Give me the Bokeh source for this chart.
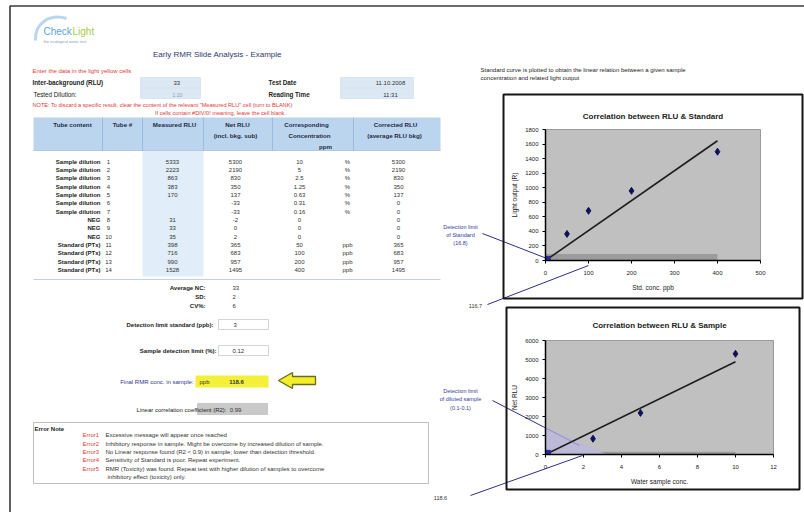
from bokeh.plotting import figure
from bokeh.models import Range1d, FixedTicker, GridBox, PolyAnnotation
from bokeh.core.properties import value
from bokeh.embed import file_html
from bokeh.resources import INLINE

FONT = "Liberation Sans"

# ---------------- chart data ----------------
std_conc = [50, 100, 200, 400]
std_rlu = [365, 683, 957, 1495]
std_fit_x = [0, 400]
std_fit_y = [0, 1645]
std_band_x = [0, 400]
std_band_y = [90, 90]
std_limit_x = [4]
std_limit_y = [15]
std_x_ticks = [0, 100, 200, 300, 400, 500]
std_y_ticks = [0, 200, 400, 600, 800, 1000, 1200, 1400, 1600, 1800]

smp_conc = [2.5, 5, 10]
smp_rlu = [830, 2190, 5300]
smp_fit_x = [0, 10]
smp_fit_y = [0, 4880]
smp_band_x = [0, 10]
smp_band_y = [150, 150]
smp_zone_x = [0, 0, 3.2]
smp_zone_y = [0, 1450, 0]
smp_limit_x = [0.1]
smp_limit_y = [60]
smp_x_ticks = [0, 2, 4, 6, 8, 10, 12]
smp_y_ticks = [0, 1000, 2000, 3000, 4000, 5000, 6000]

# ---------------- spreadsheet data ----------------
tube_content = ["Sample dilution"] * 7 + ["NEG"] * 3 + ["Standard (PTx)"] * 4
tube_no = [str(i) for i in range(1, 15)]
measured_rlu = ["5333", "2223", "863", "383", "170", "", "", "31", "33", "35", "398", "716", "990", "1528"]
net_rlu = ["5300", "2190", "830", "350", "137", "-33", "-33", "-2", "0", "2", "365", "683", "957", "1495"]
conc_val = ["10", "5", "2.5", "1.25", "0.63", "0.31", "0.16", "0", "0", "0", "50", "100", "200", "400"]
conc_unit = ["%"] * 7 + [""] * 3 + ["ppb"] * 4
corrected_rlu = ["5300", "2190", "830", "350", "137", "0", "0", "0", "0", "0", "365", "683", "957", "1495"]

stat_labels = ["Average NC:", "SD:", "CV%:"]
stat_values = ["33", "2", "6"]

error_codes = ["Error1", "Error2", "Error3", "Error4", "Error5", ""]
error_texts = [
    "Excessive message will appear once reached",
    "Inhibitory response in sample. Might be overcome by increased dilution of sample.",
    "No Linear response found (R2 < 0.9) in sample; lower than detection threshold.",
    "Sensitivity of Standard is poor. Repeat experiment.",
    "RMR (Toxicity) was found. Repeat test with higher dilution of samples to overcome",
    "inhibitory effect (toxicity) only.",
]

# ---------------- sheet layout (page pixels) ----------------
PAGE_W, PAGE_H = 804, 512
C1_X0, C1_X1, C1_Y0, C1_Y1 = 504, 801, 100, 297
C2_X0, C2_X1, C2_Y0, C2_Y1 = 507, 798, 308, 488
LINE_COL = "#2e2e8a"
BOX_COL = "#151515"
CALLOUTS = [((482, 233), (549, 259)), ((487, 304), (588, 265)),
            ((492, 400), (579, 445)), ((470, 495), (582, 455))]


def T(cv, xs, ys, texts, size="6px", color="#333333", align="left", style="normal"):
    cv.text(x=xs, y=ys, text=texts, text_font=value(FONT), text_font_size=size,
            text_color=color, text_align=align, text_baseline="middle", text_font_style=style)


# ---------------- charts ----------------
def make_chart(x0, x1, y0, y1, xr, yr, xt, yt, title, xlab, ylab, borders, standoff):
    p = figure(width=x1 - x0, height=y1 - y0, x_range=Range1d(*xr), y_range=Range1d(*yr),
               output_backend="svg", toolbar_location=None,
               min_border_left=borders[0], min_border_right=borders[1],
               min_border_top=borders[2], min_border_bottom=borders[3])
    p.title.text = title
    p.title.align = "center"
    p.title.text_font = FONT
    p.title.text_font_size = "8px"
    p.title.text_font_style = "bold"
    p.title.text_color = "#222222"
    p.title.standoff = standoff
    p.background_fill_color = "#c0c0c0"
    p.border_fill_color = None
    p.outline_line_color = "#9a9a9a"
    p.xgrid.visible = False
    p.ygrid.visible = False
    for ax in (p.xaxis[0], p.yaxis[0]):
        ax.axis_line_color = "black"
        ax.axis_line_width = 1.5
        ax.major_tick_line_color = "black"
        ax.major_tick_out = 3
        ax.major_tick_in = 0
        ax.minor_tick_line_color = None
        ax.major_label_text_font = FONT
        ax.major_label_text_font_size = "6px"
        ax.major_label_text_color = "#222222"
        ax.axis_label_text_font = FONT
        ax.axis_label_text_font_size = "6.5px"
        ax.axis_label_text_font_style = "normal"
        ax.axis_label_text_color = "#222222"
    p.xaxis.ticker = FixedTicker(ticks=xt)
    p.yaxis.ticker = FixedTicker(ticks=yt)
    p.xaxis.major_label_standoff = 7
    p.xaxis.axis_label_standoff = 6
    p.yaxis.major_label_standoff = 4
    p.yaxis.axis_label_standoff = 4
    p.xaxis.axis_label = xlab
    p.yaxis.axis_label = ylab
    # the part of each call-out line that lies over the plot area
    for (xa, ya), (xb, yb) in CALLOUTS:
        p.add_layout(PolyAnnotation(xs=[xa - x0, xb - x0], ys=[ya - y0, yb - y0],
                                    xs_units="canvas", ys_units="canvas",
                                    fill_color=None, line_color=LINE_COL, line_width=1))
    return p


c1 = make_chart(C1_X0, C1_X1, C1_Y0, C1_Y1, (0, 500), (0, 1800), std_x_ticks, std_y_ticks,
                "Correlation between RLU & Standard", "Std. conc. ppb", "Light output (R)",
                (41, 41, 28, 37), 18)
c1.varea(x=std_band_x, y1=[0, 0], y2=std_band_y, fill_color="#9c9c9c")
c1.line(std_fit_x, std_fit_y, line_color="#1e1e1e", line_width=1.6)
c1.scatter(std_conc, std_rlu, marker="diamond", size=7, fill_color="#10105a", line_color="#10105a")
c1.scatter(std_limit_x, std_limit_y, marker="square", size=6, fill_color="#2a2a9a", line_color="#2a2a9a")

c2 = make_chart(C2_X0, C2_X1, C2_Y0, C2_Y1, (0, 12), (0, 6000), smp_x_ticks, smp_y_ticks,
                "Correlation between RLU & Sample", "Water sample conc.", "Net RLU",
                (38, 25, 32, 34), 21)
c2.varea(x=smp_band_x, y1=[0, 0], y2=smp_band_y, fill_color="#9c9c9c")
c2.patch(smp_zone_x, smp_zone_y, fill_color="#bdb8da", line_color=None, fill_alpha=0.9)
c2.line(smp_fit_x, smp_fit_y, line_color="#1e1e1e", line_width=1.6)
c2.scatter(smp_conc, smp_rlu, marker="diamond", size=7, fill_color="#10105a", line_color="#10105a")
c2.scatter(smp_limit_x, smp_limit_y, marker="square", size=6, fill_color="#2a2a9a", line_color="#2a2a9a")

# ---------------- the sheet (page pixels), lying under the two charts ----------------
cv = figure(width=PAGE_W, height=PAGE_H, x_range=Range1d(0, PAGE_W), y_range=Range1d(PAGE_H, 0),
            x_axis_type=None, y_axis_type=None, toolbar_location=None, output_backend="svg",
            min_border=0, background_fill_color="white", border_fill_color="white",
            outline_line_color=None)

cv.line([9.5, 9.5, PAGE_W], [PAGE_H, 5.5, 5.5], line_color="#3a3a3a", line_width=1.6)
cv.bezier(x0=[35], y0=[40], x1=[66], y1=[18], cx0=[34], cy0=[22], cx1=[50], cy1=[13],
          line_color="#9cc3e6", line_width=3, line_alpha=0.7)
T(cv, [43], [31], ["Check"], size="10px", color="#5aa5dc")
T(cv, [72], [31], ["Light"], size="10px", color="#a9c93f")
T(cv, [43], [41], ["the ecological water test"], size="4px", color="#7f9fc0")
T(cv, [217], [54], ["Early RMR Slide Analysis - Example"], size="8px", color="#2f3a6e", align="center")
T(cv, [32], [70], ["Enter the data in the light yellow cells"], color="#e03a3a")
cv.quad(left=[140, 140, 340, 340], right=[200, 200, 413, 413], top=[77, 88, 77, 88],
        bottom=[87, 98, 87, 98], fill_color="#dce9f5", line_color="#c5d6e8", line_width=0.5)
T(cv, [32], [82], ["Inter-background (RLU)"], size="6.3px", color="#222222", style="bold")
T(cv, [173], [82], ["33"])
T(cv, [33], [94], ["Tested Dilution:"], size="6.3px", color="#222222")
T(cv, [172], [94], ["1:10"], color="#8899aa", size="5px")
T(cv, [268, 268], [82, 94], ["Test Date", "Reading Time"], size="6.3px", color="#222222", style="bold")
T(cv, [390, 390], [82, 94], ["11.10.2008", "11:31"], align="center")
T(cv, [480, 480], [69, 77], ["Standard curve is plotted to obtain the linear relation between a given sample",
                             "concentration and related light output"], color="#222222")
T(cv, [32], [104.5], ['NOTE: To discard a specific result, clear the content of the relevant "Measured RLU" cell (turn to BLANK)'],
  color="#e03a3a", size="5.6px")
T(cv, [220], [112], ["If cells contain #DIV/0! meaning, leave the cell blank."], color="#e03a3a",
  size="5.6px", align="center")

# table header
cv.quad(left=[33], right=[440], top=[117], bottom=[150], fill_color="#bcd5ee", line_color=None)
cv.quad(left=[142], right=[203], top=[150], bottom=[276], fill_color="#e1edf8", line_color=None)
cv.segment(x0=[102, 142, 203, 272, 353], y0=[117] * 5, x1=[102, 142, 203, 272, 353], y1=[150] * 5,
           line_color="#8fb0d2", line_width=0.7)
cv.segment(x0=[33, 33], y0=[150, 279], x1=[440, 440], y1=[150, 279], line_color="#9ab0c8", line_width=0.6)
T(cv, [72, 122, 174, 237, 306, 395], [124] * 6,
  ["Tube content", "Tube #", "Measured RLU", "Net RLU", "Corresponding", "Corrected RLU"],
  size="6.2px", color="#1f2a44", align="center", style="bold")
T(cv, [235, 309, 394], [135] * 3, ["(incl. bkg. sub)", "Concentration", "(average RLU bkg)"],
  size="6.2px", color="#1f2a44", align="center", style="bold")
T(cv, [325], [146], ["ppm"], size="6.2px", color="#1f2a44", align="center", style="bold")

# table body
row_y = [161 + 8.35 * i for i in range(len(tube_no))]
T(cv, [100] * 14, row_y, tube_content, size="6px", color="#222222", align="right", style="bold")
T(cv, [108] * 14, row_y, tube_no, align="center")
T(cv, [172] * 14, row_y, measured_rlu, align="center")
T(cv, [235] * 14, row_y, net_rlu, align="center")
T(cv, [299] * 14, row_y, conc_val, align="center")
T(cv, [347] * 14, row_y, conc_unit, align="center")
T(cv, [398] * 14, row_y, corrected_rlu, align="center")

# statistics
T(cv, [205] * 3, [287, 296, 305], stat_labels, style="bold", color="#222222", align="right")
T(cv, [232] * 3, [287, 296, 305], stat_values, align="left")
cv.quad(left=[218, 218], right=[268, 268], top=[319, 345], bottom=[329, 355],
        fill_color=None, line_color="#b8b8b8", line_width=0.6)
T(cv, [213], [324], ["Detection limit standard (ppb):"], style="bold", color="#222222", align="right")
T(cv, [233], [324], ["3"])
T(cv, [216], [350], ["Sample detection limit (%):"], style="bold", color="#222222", align="right")
T(cv, [232], [350], ["0.12"])

# final result
cv.quad(left=[195], right=[268], top=[375], bottom=[387], fill_color="#f4f03a", line_color=None)
T(cv, [193], [381], ["Final RMR conc. in sample:"], color="#2f3590", align="right")
T(cv, [199], [381], ["ppb"], color="#333333")
T(cv, [236], [381], ["118.6"], align="center", style="bold")
cv.patch([278, 292, 292, 315, 315, 292, 292], [380, 372, 376, 376, 384, 384, 388],
         fill_color="#f2ee2c", line_color="#6b6a1c", line_width=1.3)
cv.quad(left=[197], right=[267], top=[403], bottom=[414], fill_color="#c9c9c9", line_color="#aaaaaa",
        line_width=0.5)
T(cv, [226], [409], ["Linear correlation coefficient (R2):"], color="#222222", align="right")
T(cv, [235], [409], ["0.99"], align="center")

# error notes box
cv.quad(left=[33], right=[428], top=[422], bottom=[483], fill_color=None, line_color="#b0b0b0",
        line_width=0.8)
T(cv, [34], [428], ["Error Note"], style="bold", color="#222222")
err_y = [434, 443, 451, 459, 468, 476]
T(cv, [82] * 6, err_y, error_codes, color="#e03a3a")
T(cv, [105] * 5 + [107], err_y, error_texts, color="#333333")

# call-out labels and lines
T(cv, [460] * 3, [226, 234, 242], ["Detection limit", "of Standard", "(16.8)"], size="5.5px",
  color="#3a3a9a", align="center")
T(cv, [475], [305], ["116.7"], size="5.5px", color="#333333", align="center")
T(cv, [460] * 3, [390, 398, 407], ["Detection limit", "of diluted sample", "(0.1-0.1)"], size="5.5px",
  color="#3a3a9a", align="center")
T(cv, [440], [497], ["118.6"], size="5.5px", color="#333333", align="center")
for (xa, ya), (xb, yb) in CALLOUTS:
    cv.line([xa, xb], [ya, yb], line_color=LINE_COL, line_width=1)

# chart boxes
cv.quad(left=[503, 506], right=[802, 799], top=[94, 307], bottom=[298, 489],
        fill_color=None, line_color=BOX_COL, line_width=2)

grid = GridBox(children=[(cv, 0, 0, 5, 5), (c1, 1, 1, 1, 3), (c2, 3, 2, 1, 1)],
               rows=["100px", "197px", "11px", "180px", "24px"],
               cols=["504px", "3px", "291px", "3px", "3px"], spacing=0)

open("out.html", "w").write(file_html(grid, INLINE))
